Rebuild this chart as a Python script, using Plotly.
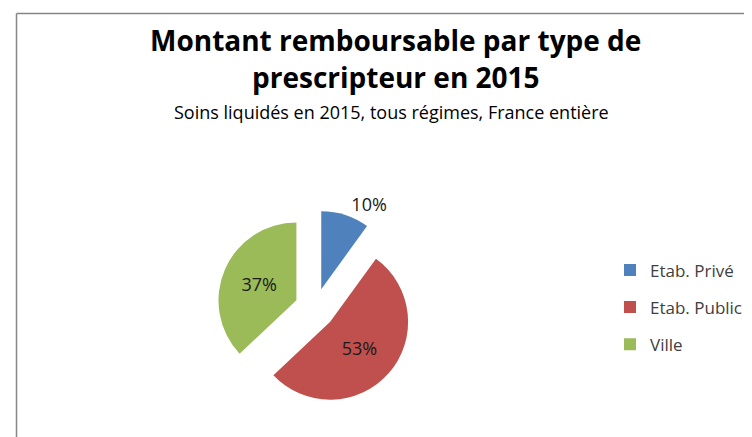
import plotly.graph_objects as go

categories = ["Etab. Privé", "Etab. Public", "Ville"]
values = [10, 53, 37]
colors = ["#4F81BD", "#C0504D", "#9BBB59"]
title_lines = ["Montant remboursable par type de", "prescripteur en 2015"]
subtitle = "Soins liquidés en 2015, tous régimes, France entière"
cropped_heading = "Montant remboursable par type de prescripteur"

W, H = 752, 437
FONT = "Open Sans"

# pie box (pixels): centre and half-size
CX, CY, HALF = 307, 306, 100

fig = go.Figure()

fig.add_trace(go.Pie(
    labels=categories,
    values=values,
    marker=dict(colors=colors),
    sort=False,
    direction="clockwise",
    rotation=0,
    pull=[0.26, 0.26, 0.26],
    textinfo="percent",
    textposition=["outside", "inside", "inside"],
    insidetextorientation="horizontal",
    textfont=dict(family=FONT, size=18, color="#1a1a1a"),
    showlegend=False,
    domain=dict(x=[(CX - HALF) / W, (CX + HALF) / W],
                y=[(H - CY - HALF) / H, (H - CY + HALF) / H]),
    hoverinfo="label+percent",
))

# legend entries (one per category)
for i, (cat, col) in enumerate(zip(categories, colors)):
    fig.add_trace(go.Scatter(
        x=[None], y=[None], mode="markers", name=cat,
        legendgroup=f"g{i}",
        marker=dict(symbol="square", size=12, color=col),
    ))

fig.update_xaxes(visible=False)
fig.update_yaxes(visible=False)

annotations = [
    dict(text=f"<b>{title_lines[0]}</b>", x=387.5 / W, y=1 - 33 / H, font=dict(family=FONT, size=28, color="#000000")),
    dict(text=f"<b>{title_lines[1]}</b>", x=387.5 / W, y=1 - 70 / H, font=dict(family=FONT, size=28, color="#000000")),
    dict(text=subtitle, x=383.5 / W, y=1 - 106 / H, font=dict(family=FONT, size=18, color="#000000")),
    dict(text=f"<b>{cropped_heading}</b>", x=17 / W, xanchor="left", yanchor="bottom", y=1 - 2.3 / H,
         font=dict(family="Liberation Serif", size=16, color="#000000")),
]
for a in annotations:
    a.setdefault("xanchor", "center")
    a.setdefault("yanchor", "middle")
    a.update(xref="paper", yref="paper", showarrow=False)

fig.update_layout(
    width=W, height=H,
    margin=dict(l=0, r=0, t=0, b=0),
    paper_bgcolor="white", plot_bgcolor="rgba(0,0,0,0)",
    showlegend=True,
    legend=dict(x=602 / W, xanchor="left", y=1 - 249 / H, yanchor="top",
                font=dict(family=FONT, size=17, color="#404040"),
                tracegroupgap=12, bgcolor="rgba(0,0,0,0)"),
    annotations=annotations,
    shapes=[
        dict(type="line", xref="paper", yref="paper", x0=8.5 / W, x1=1.05, y0=1 - 5.5 / H, y1=1 - 5.5 / H,
             line=dict(color="#868686", width=1.5)),
        dict(type="line", xref="paper", yref="paper", x0=8.5 / W, x1=8.5 / W, y0=1 - 5.5 / H, y1=-0.05,
             line=dict(color="#868686", width=1.5)),
    ],
)

fig.write_html("out.html")
